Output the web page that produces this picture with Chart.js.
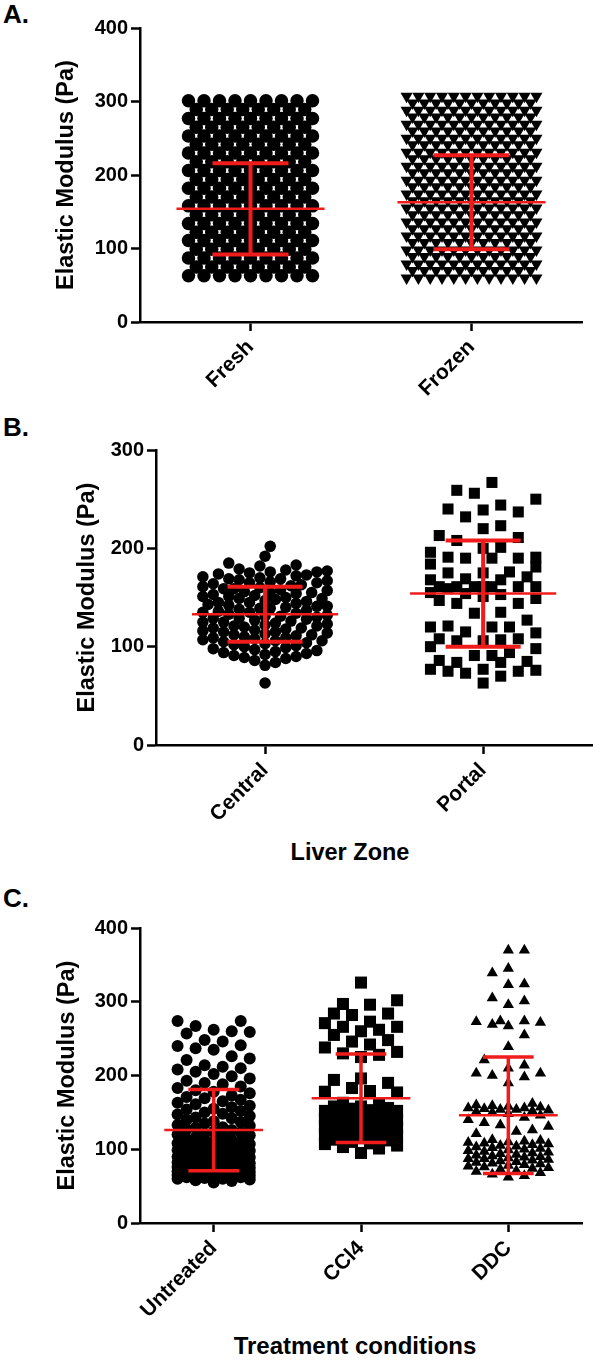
<!DOCTYPE html>
<html>
<head>
<meta charset="utf-8">
<script src="https://cdn.jsdelivr.net/npm/chart.js@4.4.1/dist/chart.umd.min.js"></script>
<style>
  html, body { margin: 0; padding: 0; background: #fff; }
  body { width: 600px; height: 1361px; position: relative; overflow: hidden; font-family: 'Liberation Sans', Arial, sans-serif; }
  canvas { position: absolute; left: 0; }
  .lbl { position: absolute; font-weight: bold; color: #000; white-space: nowrap; }
</style>
</head>
<body>
<div class="lbl" style="left:3px;top:1px;font-size:26px;line-height:26px;">A.</div>
<div class="lbl" style="left:3px;top:414px;font-size:26px;line-height:26px;">B.</div>
<div class="lbl" style="left:3px;top:885px;font-size:26px;line-height:26px;">C.</div>
<div class="lbl" style="left:200px;width:300px;text-align:center;top:838px;font-size:23.5px;line-height:28px;">Liver Zone</div>
<div class="lbl" style="left:205px;width:300px;text-align:center;top:1332px;font-size:24px;line-height:28px;">Treatment conditions</div>

<canvas id="chartA" width="600" height="440" style="top:0px"></canvas>
<canvas id="chartB" width="600" height="455" style="top:425px"></canvas>
<canvas id="chartC" width="600" height="481" style="top:880px"></canvas>

<script>
// ---- Panel A: fresh vs frozen (dense columns read as rows: level + number of points) ----
const panelACategories = ['Fresh', 'Frozen'];
const panelAYTicks = [0, 100, 200, 300, 400];
const freshLevels = [63, 75, 87, 99, 111, 122, 134, 146, 158, 170, 182, 194, 206, 218, 230, 242, 253, 265, 277, 289, 301];
const freshCounts = [9, 8, 9, 8, 9, 8, 9, 8, 9, 8, 9, 8, 9, 8, 9, 8, 9, 8, 9, 8, 9];
const frozenLevels = [60, 70, 79, 89, 98, 108, 117, 127, 136, 146, 155, 165, 174, 184, 193, 203, 212, 222, 231, 241, 250, 260, 269, 279, 288, 298, 307];
const frozenCounts = [12, 11, 12, 11, 12, 11, 12, 11, 12, 11, 12, 11, 12, 11, 12, 11, 12, 11, 12, 11, 12, 11, 12, 11, 12, 11, 12];
const panelAMeans = [154, 163];
const panelASDs = [62, 64];

// ---- Panel B: liver zone ----
const panelBCategories = ['Central', 'Portal'];
const panelBYTicks = [0, 100, 200, 300];
const centralValues = [
  63, 81, 84, 86, 88, 89,
  90, 91, 92, 93, 94, 95, 96, 97, 98, 99,
  100, 101, 102, 103, 104, 105, 106, 106, 107, 108, 109, 109,
  110, 111, 112, 112, 113, 114, 115, 115, 116, 117, 118, 119, 119,
  120, 121, 121, 122, 123, 124, 125, 125, 126, 127, 128, 129, 129,
  130, 131, 131, 132, 133, 134, 135, 135, 136, 137, 138, 139, 139,
  140, 141, 141, 142, 143, 144, 145, 145, 146, 147, 148, 149, 149,
  150, 151, 151, 152, 153, 154, 155, 155, 156, 157, 158, 159, 159,
  160, 161, 162, 163, 164, 165, 165, 166, 167, 168, 169, 169,
  170, 171, 172, 173, 174, 175, 176, 176, 177, 178, 179,
  182, 183, 185, 192, 202
];
const portalValues = [
  267, 259, 256, 250, 244, 240, 239, 237, 232, 223, 220, 213, 211, 208, 201,
  200, 196, 191, 191, 190, 190, 190, 184, 181, 176, 175, 175, 171, 169, 168,
  168, 161, 161, 161, 161, 161, 161, 161, 159, 155, 154, 153, 151, 149, 147,
  144, 144, 135, 134, 127, 121, 120, 120, 120, 115, 114, 108, 108, 107, 106,
  106, 100, 98, 94, 91, 91, 86, 85, 84, 84, 77, 77, 76, 75, 75, 73, 70, 63
];
const panelBMeans = [133, 154];
const panelBSDs = [28, 54];

// ---- Panel C: treatment ----
const panelCCategories = ['Untreated', 'CCl4', 'DDC'];
const panelCYTicks = [0, 100, 200, 300, 400];
const untreatedValues = [
  55, 57, 58, 59, 60, 60, 61, 62, 62, 63, 63, 64, 64, 65, 65, 66, 66, 67, 67, 68, 68, 69, 69, 70,
  71, 71, 72, 73, 73, 74, 75, 75, 76, 77, 77, 78, 79, 79, 80, 81, 81, 82, 83, 83, 84, 85, 86, 87, 88, 89,
  90, 91, 92, 93, 94, 95, 96, 97, 98, 99, 100, 101, 102, 103, 104, 105, 106, 107, 108, 109,
  110, 111, 113, 114, 116, 117, 119, 120, 121, 123, 124, 126, 127, 129,
  130, 132, 133, 135, 137, 138, 140, 142, 143, 145, 147, 148,
  150, 152, 154, 155, 157, 159, 161, 163, 165, 167, 169,
  171, 173, 176, 178, 180, 183, 185, 188,
  190, 193, 196, 199, 202, 205,
  208, 210, 212, 214, 221, 223, 226,
  235, 237, 240, 241, 246, 248,
  257, 259, 260, 262,
  267, 274, 274
];
const ccl4Values = [
  326, 302, 297, 296, 284, 284, 282, 273, 271, 266, 266, 262, 260, 255, 248, 246, 242, 238, 232, 230, 228, 225,
  196, 194, 190, 183, 179, 178, 177, 163,
  160, 158, 158, 156, 155, 153, 152, 152, 150, 149, 147, 146, 145, 145, 143, 141, 140, 139, 138, 136, 135, 135,
  133, 132, 131, 130, 128, 127, 126, 125, 125, 123, 122, 120, 119, 118, 116, 115, 113, 112, 110, 108, 107, 105, 103,
  101, 95
];
const ddcValues = [
  370, 370, 345, 339, 324, 323, 305, 301, 296, 274, 274, 273, 272, 269, 267, 255, 239, 221, 214, 210, 203, 203, 200, 198, 190,
  162, 160, 159, 158, 157, 156, 156, 155, 154, 154, 153, 152, 151, 150, 148, 146, 143, 140,
  136, 133, 131, 126, 124, 121,
  113, 112, 111, 110, 109, 108, 107, 106, 105, 104, 103, 102, 101, 100, 99, 98, 97, 96, 95, 94, 93, 92, 91, 90,
  89, 88, 87, 87, 86, 85, 84, 83, 82, 81, 80, 79, 78, 77, 76, 75, 74, 73, 71, 70, 68, 66, 64, 62
];
const panelCMeans = [126, 169, 146];
const panelCSDs = [55, 60, 79];

const RED = '#f01c1c';
const FONT = "'Liberation Sans', Arial, sans-serif";

// spread points sideways (px offsets), lowest values first, capped width
function beeswarm(values, g, yPx) {
  const order = values.map((v, i) => i).sort((a, b) => values[a] - values[b]);
  const placed = [];
  const offsets = new Array(values.length).fill(0);
  const maxSlot = Math.floor(g.maxHalf / g.step + 1e-6);
  order.forEach(idx => {
    const y = values[idx] * yPx;
    let bestX = 0, bestGap = -1;
    for (let j = 0; j <= 2 * maxSlot; j++) {
      const slot = j % 2 ? (j + 1) / 2 : -j / 2;
      const x = slot * g.step;
      let gap = Infinity;
      for (const p of placed) {
        const dx = p.x - x, dy = p.y - y;
        if (Math.abs(dx) < g.d && Math.abs(dy) < g.d) gap = Math.min(gap, Math.sqrt(dx * dx + dy * dy));
      }
      if (gap >= g.d) { bestX = x; break; }
      if (gap > bestGap) { bestGap = gap; bestX = x; }
    }
    placed.push({ x: bestX, y: y });
    offsets[idx] = bestX;
  });
  return values.map((v, i) => ({ y: v, off: offsets[i] }));
}

// rows of identical values, centred, squeezed to the column width when crowded
function rowLayout(g) {
  const pts = [];
  g.levels.forEach((lv, r) => {
    const n = g.counts[r];
    const s = n > 1 ? Math.min(g.step, 2 * g.maxHalf / (n - 1)) : 0;
    for (let j = 0; j < n; j++) pts.push({ y: lv, off: (j - (n - 1) / 2) * s });
  });
  return pts;
}

function makePanel(id, p) {
  const datasets = [];

  // mean line + SD whiskers
  const meanPts = [], sdPts = [];
  p.means.forEach((m, i) => {
    const s = p.sds[i];
    meanPts.push({ x: i - 0.335, y: m }, { x: i + 0.335, y: m }, { x: i, y: null });
    sdPts.push(
      { x: i, y: m - s }, { x: i, y: m + s }, { x: i, y: null },
      { x: i - 0.172, y: m + s }, { x: i + 0.172, y: m + s }, { x: i, y: null },
      { x: i - 0.172, y: m - s }, { x: i + 0.172, y: m - s }, { x: i, y: null }
    );
  });
  datasets.push({ data: meanPts, showLine: true, spanGaps: false, borderColor: RED, borderWidth: p.meanWidth, pointRadius: 0, order: 0 });
  datasets.push({ data: sdPts, showLine: true, spanGaps: false, borderColor: RED, borderWidth: p.sdWidth, pointRadius: 0, order: 0 });

  p.groups.forEach((g, i) => {
    const pts = g.levels ? rowLayout(g) : beeswarm(g.values, g, p.yPx);
    datasets.push({
      data: pts.map(q => ({ x: i + q.off / p.xPx, y: q.y })),
      showLine: false,
      pointStyle: g.style,
      pointRadius: g.radius,
      pointRotation: g.rotation || 0,
      pointBackgroundColor: '#000',
      pointBorderColor: '#000',
      pointBorderWidth: 0,
      clip: false,
      order: 1
    });
  });

  return new Chart(document.getElementById(id), {
    type: 'scatter',
    data: { datasets: datasets },
    options: {
      responsive: false,
      animation: false,
      events: [],
      layout: { padding: { top: p.padTop, right: p.padRight, left: 0, bottom: 0 } },
      plugins: { legend: { display: false }, tooltip: { enabled: false } },
      scales: {
        x: {
          type: 'linear',
          min: -0.5,
          max: p.categories.length - 0.5,
          afterBuildTicks: s => { s.ticks = p.categories.map((c, i) => ({ value: i })); },
          afterFit: s => { s.height = p.xHeight; },
          ticks: {
            autoSkip: false, minRotation: 45, maxRotation: 45, padding: 4, color: '#000',
            font: { family: FONT, size: 21, weight: 'bold' },
            callback: (v, i) => p.categories[i]
          },
          grid: { drawOnChartArea: false, drawTicks: true, tickLength: 9, tickWidth: 2.5, tickColor: '#000', color: '#000' },
          border: { display: true, color: '#000', width: 2.5 }
        },
        y: {
          min: 0,
          max: p.yTicks[p.yTicks.length - 1],
          afterBuildTicks: s => { s.ticks = p.yTicks.map(v => ({ value: v })); },
          afterFit: s => { s.width = p.yWidth; },
          ticks: { padding: 3, color: '#000', font: { family: FONT, size: 20, weight: 'bold' } },
          grid: { drawOnChartArea: false, drawTicks: true, tickLength: 9, tickWidth: 2.5, tickColor: '#000', color: '#000' },
          border: { display: true, color: '#000', width: 2.5 },
          title: {
            display: true, text: 'Elastic Modulus (Pa)', color: '#000',
            font: { family: FONT, size: 23.5, weight: 'bold' },
            padding: { top: p.titlePad, bottom: 0 }
          }
        }
      }
    }
  });
}

makePanel('chartA', {
  categories: panelACategories, yTicks: panelAYTicks, means: panelAMeans, sds: panelASDs,
  padTop: 28, padRight: 18, xHeight: 118, yWidth: 140, titlePad: 52,
  xPx: 221, yPx: 0.735, meanWidth: 2.5, sdWidth: 4,
  groups: [
    { levels: freshLevels, counts: freshCounts, style: 'circle', radius: 6.75, step: 15.5, maxHalf: 62 },
    { levels: frozenLevels, counts: frozenCounts, style: 'triangle', rotation: 180, radius: 7, step: 11.8, maxHalf: 65 }
  ]
});

makePanel('chartB', {
  categories: panelBCategories, yTicks: panelBYTicks, means: panelBMeans, sds: panelBSDs,
  padTop: 25, padRight: 2, xHeight: 135, yWidth: 156, titlePad: 73,
  xPx: 221, yPx: 0.983, meanWidth: 2.5, sdWidth: 4,
  groups: [
    { values: centralValues, style: 'circle', radius: 5.75, d: 10.5, step: 5.25, maxHalf: 66 },
    { values: portalValues, style: 'rect', radius: 7.8, d: 17.8, step: 8.9, maxHalf: 62 }
  ]
});

makePanel('chartC', {
  categories: panelCCategories, yTicks: panelCYTicks, means: panelCMeans, sds: panelCSDs,
  padTop: 48, padRight: 18, xHeight: 138, yWidth: 140, titlePad: 53,
  xPx: 147, yPx: 0.7375, meanWidth: 2.5, sdWidth: 3.5,
  groups: [
    { values: untreatedValues, style: 'circle', radius: 6, d: 18, step: 9, maxHalf: 40 },
    { values: ccl4Values, style: 'rect', radius: 8.5, d: 18, step: 9, maxHalf: 40 },
    { values: ddcValues, style: 'triangle', radius: 6.5, d: 16, step: 8, maxHalf: 45 }
  ]
});
</script>
</body>
</html>
